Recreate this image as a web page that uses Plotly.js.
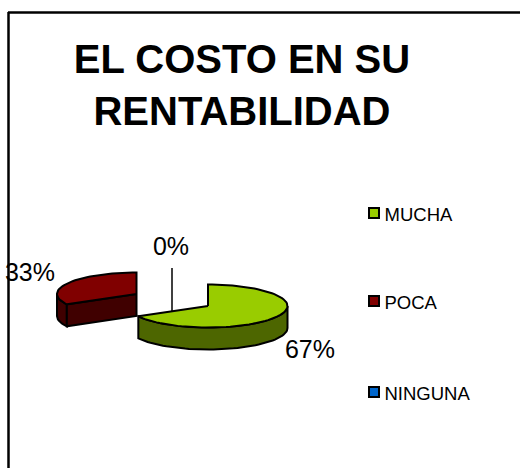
<!DOCTYPE html>
<html>
<head>
<meta charset="utf-8">
<script src="https://cdn.plot.ly/plotly-3.0.1.min.js"></script>
<style>html,body{margin:0;padding:0;background:#fff}</style>
</head>
<body>
<div id="chart" style="width:520px;height:468px"></div>
<script>
const categories = ["MUCHA", "POCA", "NINGUNA"];
const values = [67, 33, 0];
const topColors = ["#99CC00", "#800000", "#0066CC"];
const sideColors = ["#4D6600", "#400000", "#003366"];
const titleText = "EL COSTO EN SU<br>RENTABILIDAD";

// Presentation geometry of the tilted, exploded pie, in plot units
const sliceCentres = [[208, 306], [136.5, 294], [172, 311]];
const radiusX = 79.5, radiusY = 21.5, depth = 22;
const labelSpots = [[310, 352], [30, 275], [171, 249]];
const legendY = [213, 301, 392];

const total = values.reduce((a, b) => a + b, 0);
const rad = d => d * Math.PI / 180;
function arc(c, a0, a1, dy) {
  const xs = [], ys = [];
  const n = Math.max(2, Math.ceil(Math.abs(a1 - a0) / 3));
  for (let i = 0; i <= n; i++) {
    const a = rad(a0 + (a1 - a0) * i / n);
    xs.push(c[0] + radiusX * Math.sin(a));
    ys.push(c[1] - radiusY * Math.cos(a) + dy);
  }
  return [xs, ys];
}
function poly(xs, ys, fill) {
  return {
    type: "scatter", mode: "lines", x: xs.concat(xs[0]), y: ys.concat(ys[0]),
    fill: "toself", fillcolor: fill, line: {color: "#000", width: 2},
    hoverinfo: "skip", showlegend: false
  };
}

const walls = [], tops = [];
let start = 0;
values.forEach((v, i) => {
  const end = start + v / total * 360;
  if (v > 0) {
    const c = sliceCentres[i];
    // outer wall: part of the rim that faces the viewer (90..270 deg)
    const a0 = Math.max(start, 90), a1 = Math.min(end, 270);
    if (a1 > a0) {
      const t = arc(c, a0, a1, 0), b = arc(c, a1, a0, depth);
      walls.push(poly(t[0].concat(b[0]), t[1].concat(b[1]), sideColors[i]));
    }
    // cut face that faces the viewer: the slice's starting edge when it sits on the lower left
    if (start > 180 && start < 270) {
      const e = arc(c, start, start, 0);
      walls.push(poly(
        [c[0], e[0][0], e[0][0], c[0]],
        [c[1], e[1][0], e[1][0] + depth, c[1] + depth],
        sideColors[i]));
    }
    const t = arc(c, start, end, 0);
    tops.push(poly([c[0]].concat(t[0]), [c[1]].concat(t[1]), topColors[i]));
  }
  start = end;
});
const traces = [walls[1], walls[2], tops[1], walls[0], tops[0]];

// percentage labels
traces.push({
  type: "scatter", mode: "text",
  x: labelSpots.map(p => p[0]), y: labelSpots.map(p => p[1]),
  text: values.map(v => Math.round(v / total * 100) + "%"),
  textposition: "middle center",
  textfont: {family: "Liberation Sans, Arial, sans-serif", size: 25, color: "#000"},
  hoverinfo: "skip", showlegend: false, cliponaxis: false
});
// legend keys and labels
traces.push({
  type: "scatter", mode: "markers",
  x: categories.map(() => 374), y: legendY,
  marker: {symbol: "square", size: 10, color: topColors, line: {color: "#000", width: 2}},
  hoverinfo: "skip", showlegend: false
});
traces.push({
  type: "scatter", mode: "text",
  x: categories.map(() => 384.5), y: legendY.map(y => y + 3),
  text: categories, textposition: "middle right",
  textfont: {family: "Liberation Sans, Arial, sans-serif", size: 18.5, color: "#000"},
  hoverinfo: "skip", showlegend: false
});

const layout = {
  width: 520, height: 468,
  margin: {l: 0, r: 0, t: 0, b: 0},
  paper_bgcolor: "#fff", plot_bgcolor: "#fff",
  showlegend: false,
  title: {
    text: titleText,
    font: {family: "Liberation Sans, Arial, sans-serif", size: 40, color: "#000", weight: 700},
    x: 242 / 520, xanchor: "center", xref: "paper",
    y: 1 - 73 / 468, yanchor: "top", yref: "container"
  },
  xaxis: {range: [0, 520], visible: false, fixedrange: true},
  yaxis: {range: [468, 0], visible: false, fixedrange: true},
  shapes: [
    {type: "line", x0: 8.5, x1: 8.5, y0: 12, y1: 468, line: {color: "#000", width: 2.5}},
    {type: "line", x0: 8, x1: 520, y0: 12.5, y1: 12.5, line: {color: "#000", width: 2.5}},
    {type: "line", x0: 172, x1: 172, y0: 268, y1: 311, line: {color: "#000", width: 1.5}}
  ]
};
Plotly.newPlot("chart", traces, layout, {staticPlot: true, displayModeBar: false});
</script>
</body>
</html>
